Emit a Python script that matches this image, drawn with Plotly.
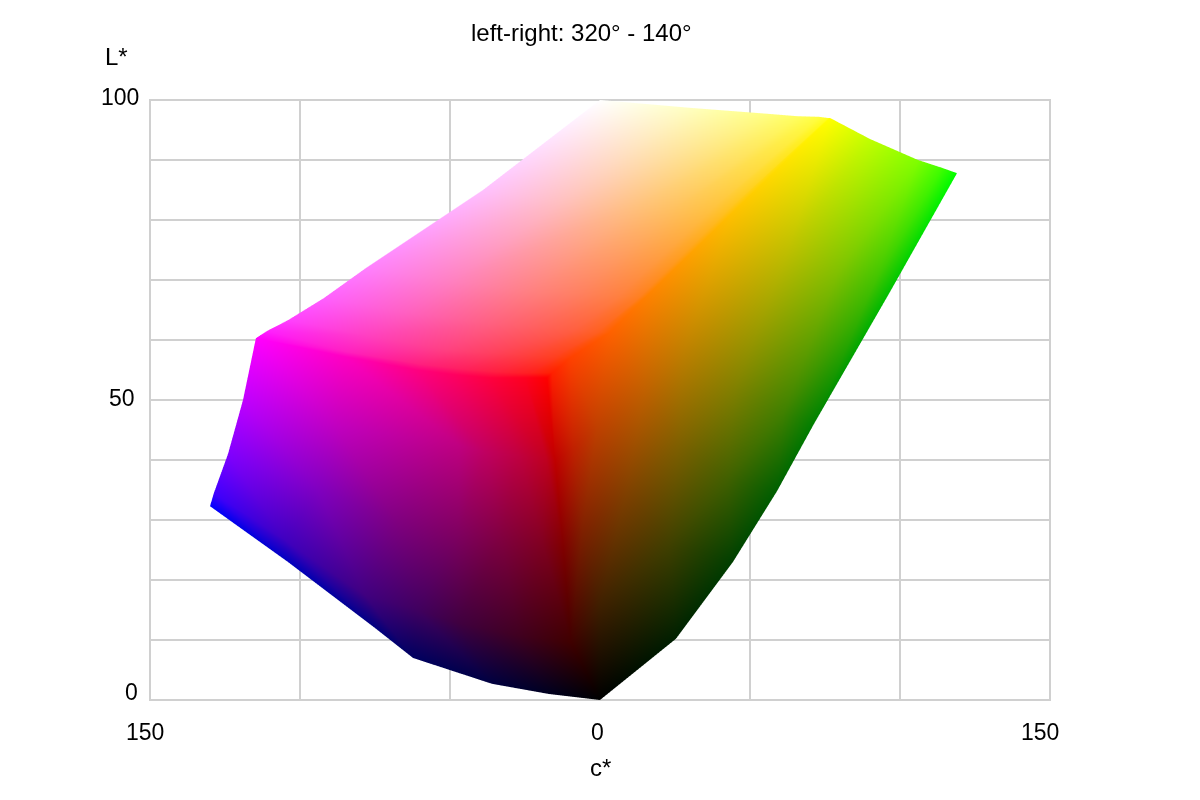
import plotly.graph_objects as go

# channel levels of the three visible gamut faces
LEVELS = [0, 32, 64, 96, 128, 192, 255]
RED_ROWS = [255, 192, 128, 64, 0]

# right face (blue = 0): rows red 255..0, columns green 0..255
right_c = [
    [-17.7, -16, -10, 3, 15.3, 43.7, 76.7],
    [-15, -9, -1, 14.7, 28, 63, 90],
    [-12.3, -6, 8.7, 26, 45, 79, 106],
    [-9.7, 0, 23.3, 42.7, 61, 90.7, 114],
    [0, 25.3, 44.3, 59, 71.3, 96.3, 119],
]
right_L = [
    [53.7, 54.5, 57, 61.2, 67.2, 81, 97],
    [40, 41.7, 45.5, 51.3, 58.3, 75.3, 93.5],
    [25.5, 28.3, 34.5, 42.7, 51.8, 71, 90],
    [9.7, 16, 26, 36.7, 47.8, 68.7, 88.7],
    [0, 10.2, 23, 34.8, 46, 67.7, 87.8],
]
# left face (green = 0): rows red 255..0, columns blue 0..255
left_c = [
    [-17.7, -25, -37, -48.3, -61, -85, -114.7],
    [-15, -18, -27, -38, -47, -88, -119],
    [-12.3, -19, -33, -47, -67.7, -94, -124],
    [-9.7, -27, -47, -61, -78.3, -105, -128.7],
    [0, -17, -36, -62.3, -75, -104, -130],
]
left_L = [
    [53.7, 53.7, 53.7, 54.2, 55, 57.2, 60.3],
    [40, 40.2, 40.7, 41.3, 42.5, 45.5, 50],
    [25.5, 25.8, 26.8, 27.8, 29.8, 35, 41],
    [9.7, 10.7, 12.8, 15, 17.5, 26.7, 34.5],
    [0, 1, 2.7, 7, 12, 23, 32.3],
]
# top face (red = 255): rows green 0..255, columns blue 0..255
top_c = [
    [-17.7, -25, -37, -48.3, -61, -85, -114.7],
    [-16, -23.3, -34, -46, -60, -84, -111],
    [-10, -15, -25, -36.7, -50.7, -77, -104],
    [3, -0.7, -8.3, -21.7, -36.3, -64, -92],
    [15.3, 13.3, 6.3, -6.7, -22.7, -49, -78],
    [43.7, 41.7, 36, 24, 10.7, -13, -39],
    [76.7, 76, 73, 65.7, 56, 30, 0],
]
top_L = [
    [53.7, 53.7, 53.7, 54.2, 55, 57.2, 60.3],
    [54.5, 54.5, 54.7, 55.2, 56, 58, 61.5],
    [57, 57.2, 57.5, 57.8, 58.3, 60.7, 63.3],
    [61.2, 61.3, 61.7, 62.2, 62.7, 64.5, 67],
    [67.2, 67.2, 67.3, 67.7, 68, 69.8, 72],
    [81, 81.2, 81.3, 81.7, 82, 83, 85],
    [97, 97, 97.2, 97.3, 97.7, 98.7, 100],
]

X, Y, COL, I, J, K = [], [], [], [], [], []


def add_face(cs, Ls, colour):
    base = len(X)
    rows, cols = len(cs), len(cs[0])
    for r in range(rows):
        for q in range(cols):
            X.append(cs[r][q])
            Y.append(Ls[r][q])
            COL.append("rgb(%d,%d,%d)" % colour(r, q))
    for r in range(rows - 1):
        for q in range(cols - 1):
            a = base + r * cols + q
            b, c, d = a + 1, a + cols, a + cols + 1
            I.extend([a, b])
            J.extend([b, d])
            K.extend([c, c])


add_face(right_c, right_L, lambda r, q: (RED_ROWS[r], LEVELS[q], 0))
add_face(left_c, left_L, lambda r, q: (RED_ROWS[r], 0, LEVELS[q]))
add_face(top_c, top_L, lambda r, q: (255, LEVELS[r], LEVELS[q]))

fig = go.Figure()
fig.add_trace(go.Mesh3d(
    x=X, y=Y, z=[0] * len(X), i=I, j=J, k=K, vertexcolor=COL,
    flatshading=False, hoverinfo="skip",
    lighting=dict(ambient=1, diffuse=0, specular=0, fresnel=0, roughness=1),
    showscale=False,
))
fig.add_trace(go.Scatter(x=[None], y=[None], showlegend=False))

GRID = "#d0d0d0"
FONT = "Liberation Sans, Arial, sans-serif"
axis = dict(showgrid=True, gridcolor=GRID, gridwidth=2, showline=False,
            zeroline=False, showticklabels=False, ticks="")
hidden = dict(visible=False, showgrid=False, zeroline=False, showspikes=False)
fig.update_layout(
    width=1184, height=784, showlegend=False, paper_bgcolor="white", plot_bgcolor="white",
    margin=dict(l=142, r=142, t=92, b=92),
    font=dict(family=FONT, size=23, color="black"),
    xaxis=dict(axis, range=[-150, 150], tickvals=[-150, -100, -50, 0, 50, 100, 150]),
    yaxis=dict(axis, range=[0, 100], tickvals=list(range(0, 101, 10))),
    shapes=[dict(type="rect", xref="paper", yref="paper", x0=0, x1=1, y0=0, y1=1,
                 line=dict(color=GRID, width=2), layer="below")],
    scene=dict(
        domain=dict(x=[0, 1], y=[0, 1]),
        xaxis=dict(hidden, range=[-150, 150]),
        yaxis=dict(hidden, range=[0, 100]),
        zaxis=dict(hidden, range=[-1, 1]),
        aspectmode="manual", aspectratio=dict(x=3, y=2, z=0.1),
        bgcolor="rgba(0,0,0,0)",
        camera=dict(projection=dict(type="orthographic"), eye=dict(x=0, y=0, z=1),
                    up=dict(x=0, y=1, z=0), center=dict(x=0, y=0, z=0)),
        dragmode=False,
    ),
)
labels = [
    ("left-right: 320° - 140°", 581, 32, 24), ("L*", 116, 57, 24), ("c*", 600, 767, 24),
    ("100", 120, 97, 23), ("50", 122, 398, 23), ("0", 131, 692, 23),
    ("150", 145, 732, 23), ("0", 597, 732, 23), ("150", 1040, 732, 23),
]
for text, px, py, size in labels:
    fig.add_annotation(text=text, x=(px - 150) / 900, y=(700 - py) / 600, xref="paper", yref="paper",
                       xanchor="center", yanchor="middle", showarrow=False, font=dict(size=size))

fig.write_html("out.html")
